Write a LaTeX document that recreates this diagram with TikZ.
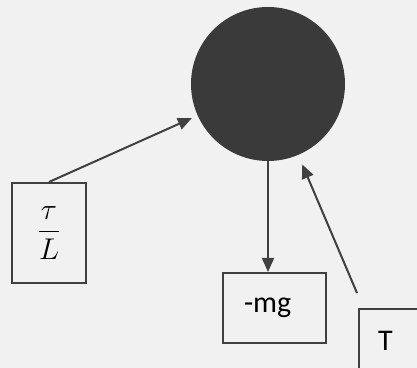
\RequirePackage{fix-cm}
\documentclass[tikz,border=0pt]{standalone}
\usepackage{fontspec}
\setmainfont{Carlito}
\usetikzlibrary{arrows.meta}
\definecolor{bg}{RGB}{241,241,241}
\definecolor{ink}{RGB}{64,64,64}
\definecolor{ballc}{RGB}{58,58,58}
\begin{document}
\begin{tikzpicture}[x=0.5pt,y=-0.5pt,
  box/.style={draw=ink, line width=1pt, fill=bg, inner sep=0pt},
  force/.style={draw=ink, line width=1pt, -{Triangle[length=7pt,width=6pt]}},
  every node/.style={font=\fontsize{15}{18}\selectfont}]
\fill[bg] (0,0) rectangle (417,368);
\clip (0,0) rectangle (417,368);
\node[circle, fill=ballc, minimum size=77pt, inner sep=0pt] (ball) at (268,84) {};
\node[box, anchor=north, minimum width=37pt, minimum height=50pt] (tau) at (49,182) {\raisebox{4pt}{$\displaystyle\frac{\tau}{L}$}};
\node[box, anchor=north west, minimum width=51.5pt, minimum height=35pt, text width=30.5pt, align=left, inner xsep=10.5pt] (mg) at (222,272) {-mg};
\node[box, anchor=north west, minimum width=51.5pt, minimum height=35pt, text width=32.5pt, align=left, inner xsep=9.5pt] (T) at (358,308) {\raisebox{3pt}{T}};
\coordinate (tfree) at (357,293);
\draw[force, shorten >=3pt] (tau.north) -- (ball);
\draw[force] (ball.south) -- (ball.south |- mg.north);
\draw[force, shorten >=5pt] (tfree) -- (ball);
\end{tikzpicture}
\end{document}
